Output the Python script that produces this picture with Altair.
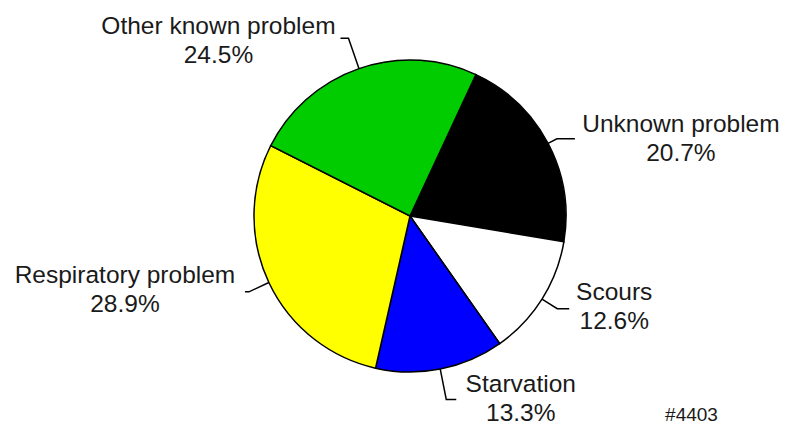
import math
import altair as alt
import pandas as pd

# ---- data ----
causes = ["Unknown problem", "Scours", "Starvation", "Respiratory problem", "Other known problem"]
percents = [20.7, 12.6, 13.3, 28.9, 24.5]
slice_colors = ["#000000", "#ffffff", "#0000ff", "#ffff00", "#00cc00"]
note_text = "#4403"

# ---- layout (pixels in plot coordinates) ----
START_DEG = 25.0
CX, CY, R = 402, 208, 156
# per label: leader outer radius, horizontal run, label offset (dx, dy) from leader end
leader_style = {
    "Unknown problem": (166, 18, 106, -7),
    "Scours": (174, 12, 45, -9),
    "Starvation": (187, 10, 64.5, -7),
    "Respiratory problem": (178, -4, -120, -9),
    "Other known problem": (188, -8, -122, -4),
}
FONT = "Liberation Sans"

total = sum(percents)
pie_df = pd.DataFrame({"cause": causes, "value": percents, "order": list(range(len(causes)))})

# leader lines and labels derived from the slice mid-angles
lead_rows, label_rows = [], []
cum = 0.0
for c, v in zip(causes, percents):
    mid = math.radians(START_DEG + 360.0 * (cum + v / 2.0) / total)
    cum += v
    r_out, run, ldx, ldy = leader_style[c]
    p0 = (CX + R * math.sin(mid), CY - R * math.cos(mid))
    p1 = (CX + r_out * math.sin(mid), CY - r_out * math.cos(mid))
    p2 = (p1[0] + run, p1[1])
    for i, p in enumerate([p0, p1, p2]):
        lead_rows.append({"cause": c, "i": i, "x": p[0], "y": p[1]})
    label_rows.append({"cause": c, "x": p2[0] + ldx, "y": p2[1] + ldy,
                       "text": f"{c}\n{v:.1f}%"})
lead_df = pd.DataFrame(lead_rows)
label_df = pd.DataFrame(label_rows)

a0 = math.radians(START_DEG)
pie = alt.Chart(pie_df).mark_arc(radius=R, stroke="black", strokeWidth=1.5).encode(
    theta=alt.Theta("value:Q", stack=True,
                    scale=alt.Scale(domain=[0, total], range=[a0, a0 + 2 * math.pi])),
    order=alt.Order("order:Q"),
    color=alt.Color("cause:N", scale=alt.Scale(domain=causes, range=slice_colors), legend=None),
    x=alt.value(CX),
    y=alt.value(CY),
)

leaders = alt.Chart(lead_df).mark_line(color="black", strokeWidth=1.5).encode(
    x=alt.X("x:Q", scale=None),
    y=alt.Y("y:Q", scale=None),
    detail="cause:N",
    order="i:Q",
)

labels = alt.Chart(label_df).mark_text(
    align="center", baseline="alphabetic", font=FONT, fontSize=24.5,
    lineBreak="\n", lineHeight=29, color="#1a1a1a",
).encode(
    x=alt.X("x:Q", scale=None),
    y=alt.Y("y:Q", scale=None),
    text="text:N",
)

note = alt.Chart(pd.DataFrame({"t": [note_text]})).mark_text(
    align="center", baseline="alphabetic", font=FONT, fontSize=19, color="#1a1a1a",
).encode(x=alt.value(683.5), y=alt.value(413), text="t:N")

chart = alt.layer(pie, leaders, labels, note).properties(
    width=773, height=419, padding=0, autosize="none", background="white"
).configure_view(stroke=None)

chart.save("out.html", embed_options={"renderer": "svg", "actions": False})
